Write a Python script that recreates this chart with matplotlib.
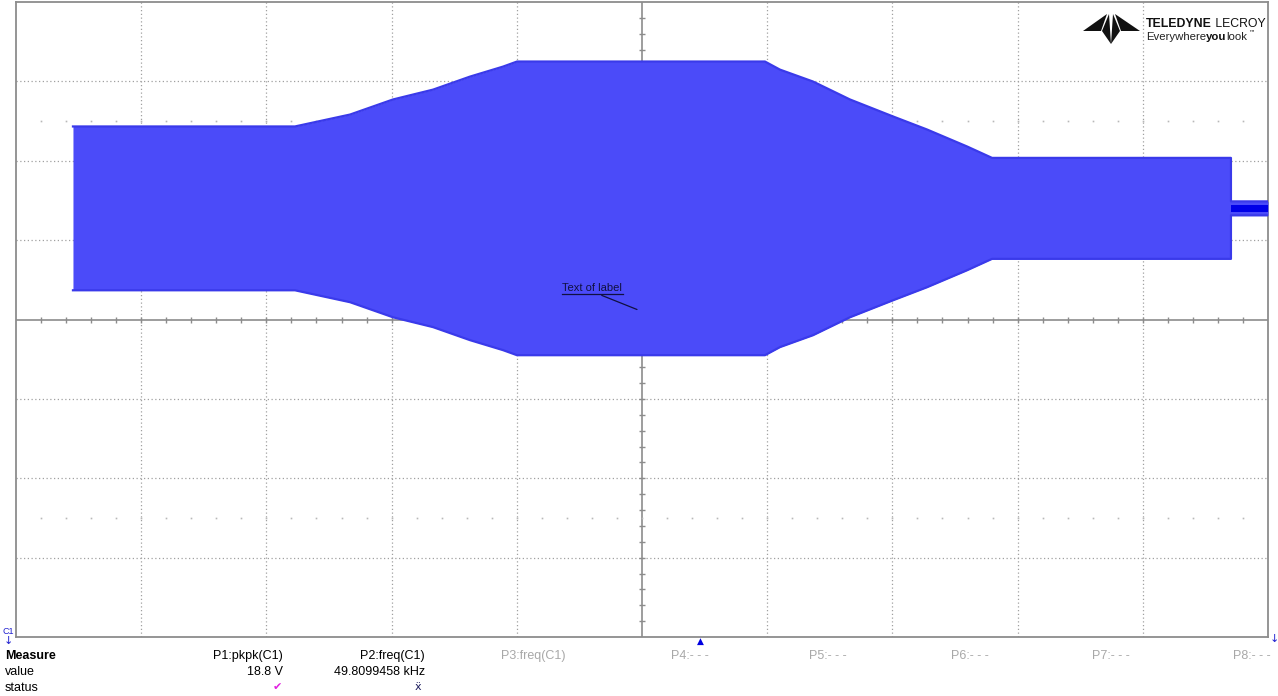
import matplotlib
matplotlib.use('Agg')
import matplotlib.pyplot as plt
import numpy as np

# Envelope of the burst (time in divisions, volts at 5 V/div)
env_time = [0.455, 2.228, 2.668, 3.011, 3.331, 3.626, 3.890, 4.002,
            5.982, 6.102, 6.366, 6.661, 7.005, 7.276, 7.596, 7.796,
            9.704, 9.704, 10.0]
env_amp = [5.16, 5.16, 5.91, 6.86, 7.48, 8.30, 8.93, 9.25,
           9.25, 8.74, 7.99, 6.86, 5.79, 4.97, 3.90, 3.18,
           3.18, 0.44, 0.44]
offset = 7.0
tail_time = [9.704, 10.0]
tail_amp = [0.22, 0.22]

# Measurement table
meas_names = ['P1:pkpk(C1)', 'P2:freq(C1)', 'P3:freq(C1)', 'P4:- - -',
              'P5:- - -', 'P6:- - -', 'P7:- - -', 'P8:- - -']
meas_values = ['18.8 V', '49.8099458 kHz', '', '', '', '', '', '']
meas_active = [True, True, False, False, False, False, False, False]

W, H = 1278, 696
fig = plt.figure(figsize=(W / 100, H / 100), dpi=100)
plt.rcParams['font.family'] = ['Liberation Sans', 'DejaVu Sans']


def fx(x):
    return x / W


def fy(y):
    return 1 - y / H


ax = fig.add_axes([fx(16), fy(637), 1252 / W, 635 / H])
ax.set_xlim(0, 10)
ax.set_ylim(-20, 20)
ax.set_xticks([])
ax.set_yticks([])
for s in ax.spines.values():
    s.set_color('#8c8c8c')
    s.set_linewidth(1.3)

# graticule
grid_col = '#a0a0a0'
for i in range(1, 10):
    if i != 5:
        ax.axvline(i, color=grid_col, lw=0.9, ls=(0, (1, 2)), zorder=1)
for j in range(-3, 4):
    if j != 0:
        ax.axhline(j * 5, color=grid_col, lw=0.9, ls=(0, (1, 2)), zorder=1)
ax.axhline(0, color='#8c8c8c', lw=1.2, zorder=1)
ax.axvline(5, color='#8c8c8c', lw=1.2, zorder=1)
xt = np.arange(0.2, 10, 0.2)
yt = np.arange(-19, 20, 1.0)
ax.plot(xt, np.zeros_like(xt), ls='none', marker='|', ms=5, color='#8c8c8c', mew=1, zorder=1)
ax.plot(np.full_like(yt, 5), yt, ls='none', marker='_', ms=5, color='#8c8c8c', mew=1, zorder=1)
for yy in (-12.5, 12.5):
    ax.plot(xt, np.full_like(xt, yy), ls='none', marker='s', ms=1.2, color='#b8b8b8', mew=0, zorder=1)

# signal envelope
t = np.array(env_time)
a = np.array(env_amp)
ax.fill_between(t, offset - a, offset + a, color='#4b4bf9', lw=0, zorder=3)
ax.plot(t, offset + a, color='#3a3aea', lw=1.6, zorder=4)
ax.plot(t, offset - a, color='#3a3aea', lw=1.6, zorder=4)
ta = np.array(tail_amp)
ax.fill_between(tail_time, offset - ta, offset + ta, color='#0000e8', lw=0, zorder=5)

# label
ax.annotate('Text of label', xy=(4.96, 0.63), xytext=(4.36, 2.01),
            fontsize=8, color='#101040', ha='left', va='center',
            arrowprops=dict(arrowstyle='-', color='#101040', lw=0.9,
                            shrinkA=0, shrinkB=0, relpos=(0.55, 0)),
            zorder=6)
ax.plot([4.36, 4.85], [1.62, 1.62], color='#101040', lw=0.9, zorder=6)

# markers around the grid
fig.text(fx(8), fy(632), 'C1', fontsize=6.5, color='#2020d0', ha='center', va='center')
fig.text(fx(8), fy(641), '\u2193', fontsize=8, color='#2020d0', ha='center', va='center',
         family='DejaVu Sans')
fig.text(fx(1274), fy(639), '\u2193', fontsize=8, color='#2020d0', ha='center', va='center',
         family='DejaVu Sans')
fig.text(fx(700), fy(641), '\u25b2', fontsize=6.5, color='#0000e0', ha='center', va='center',
         family='DejaVu Sans')

# measurement table
fig.text(fx(5), fy(656), 'Measure', fontsize=9, fontweight='bold', va='center')
fig.text(fx(5), fy(672), 'value', fontsize=9, va='center')
fig.text(fx(5), fy(688), 'status', fontsize=9, va='center')
col_right = [283, 425, 566, 709, 847, 989, 1130, 1271]
for name, val, act, xr in zip(meas_names, meas_values, meas_active, col_right):
    c = '#000000' if act else '#a8a8a8'
    fig.text(fx(xr), fy(656), name, fontsize=9, color=c, ha='right', va='center')
    if val:
        fig.text(fx(xr), fy(672), val, fontsize=9, color='#000000', ha='right', va='center')
fig.text(fx(277), fy(687), '\u2714', fontsize=8, color='#e020e0', ha='center', va='center',
         family='DejaVu Sans')
fig.text(fx(418), fy(687), '\u1e8d', fontsize=8, color='#202060', ha='center', va='center',
         family='DejaVu Sans')

# logo
logo = [
    [(1083, 31), (1107, 14), (1101, 31)],
    [(1102, 31), (1109, 14), (1111, 44)],
    [(1120, 31), (1113, 14), (1111, 44)],
    [(1140, 31), (1115, 14), (1121, 31)],
]
for tri in logo:
    poly = plt.Polygon([(fx(x), fy(y)) for x, y in tri], closed=True,
                       transform=fig.transFigure, color='#111111', lw=0)
    fig.patches.append(poly)

renderer = fig.canvas.get_renderer()


def chain(x0, y, parts, size):
    # put text pieces one after another on one line
    x = x0
    for txt, weight, col in parts:
        tt = fig.text(fx(x), fy(y), txt, fontsize=size, fontweight=weight,
                      color=col, va='center')
        x += tt.get_window_extent(renderer).width
    return x


chain(1146, 24, [('TELEDYNE', 'bold', '#111111'), (' LECROY', 'normal', '#111111')], 8.8)
xe = chain(1146, 37, [('Everywhere', 'normal', '#222222'), ('you', 'bold', '#111111'),
                      ('look', 'normal', '#222222')], 8.2)
fig.text(fx(xe + 1), fy(33), '\u2122', fontsize=4.5, family='DejaVu Sans', va='center')

fig.savefig('out.png', dpi=100)
